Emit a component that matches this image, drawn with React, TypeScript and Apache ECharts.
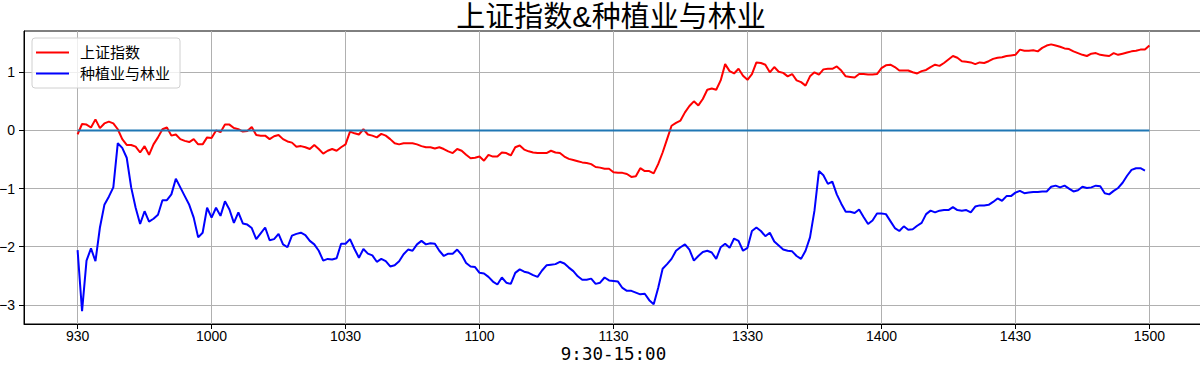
import React, { useEffect, useRef } from "react";
import * as echarts from "echarts";

const titleText = "上证指数&种植业与林业";
const xAxisName = "9:30-15:00";
const seriesNames = ["上证指数", "种植业与林业"];
const tickPositions = [0, 30, 60, 90, 120, 150, 180, 210, 240];
const tickLabels = ["930", "1000", "1030", "1100", "1130", "1330", "1400", "1430", "1500"];
const yTicks = [-3, -2, -1, 0, 1];

const shIndex = [
  -0.07, 0.11, 0.10, 0.05, 0.19, 0.04, 0.12, 0.15, 0.12, 0.02,
  -0.15, -0.25, -0.25, -0.28, -0.38, -0.27, -0.42, -0.24, -0.12, 0.02,
  0.05, -0.09, -0.07, -0.15, -0.18, -0.20, -0.15, -0.24, -0.24, -0.12,
  -0.13, 0.00, -0.03, 0.10, 0.10, 0.04, 0.02, -0.02, -0.01, 0.06,
  -0.08, -0.09, -0.09, -0.15, -0.10, -0.08, -0.15, -0.19, -0.21, -0.28,
  -0.27, -0.29, -0.32, -0.25, -0.32, -0.40, -0.35, -0.32, -0.35, -0.29,
  -0.24, -0.02, -0.05, -0.07, 0.02, -0.07, -0.09, -0.12, -0.06, -0.09,
  -0.15, -0.22, -0.24, -0.22, -0.22, -0.22, -0.24, -0.27, -0.29, -0.29,
  -0.31, -0.29, -0.32, -0.36, -0.39, -0.32, -0.35, -0.42, -0.48, -0.47,
  -0.45, -0.52, -0.42, -0.45, -0.45, -0.38, -0.39, -0.43, -0.29, -0.26,
  -0.33, -0.36, -0.38, -0.39, -0.39, -0.39, -0.35, -0.38, -0.39, -0.45,
  -0.49, -0.51, -0.53, -0.55, -0.56, -0.58, -0.63, -0.64, -0.66, -0.66,
  -0.72, -0.73, -0.73, -0.75, -0.80, -0.79, -0.65, -0.70, -0.70, -0.74,
  -0.58, -0.38, -0.15, 0.08, 0.13, 0.17, 0.31, 0.42, 0.50, 0.43,
  0.54, 0.70, 0.72, 0.70, 0.86, 1.14, 1.02, 0.98, 1.06, 0.94,
  0.87, 0.97, 1.17, 1.16, 1.13, 1.00, 1.09, 1.01, 0.99, 0.93,
  0.97, 0.86, 0.83, 0.77, 0.93, 1.00, 0.96, 1.05, 1.06, 1.06,
  1.10, 1.03, 0.93, 0.92, 0.91, 0.97, 0.97, 0.96, 0.96, 0.97,
  1.07, 1.12, 1.13, 1.09, 1.03, 1.03, 1.03, 1.00, 0.98, 1.02,
  1.04, 1.09, 1.13, 1.11, 1.16, 1.22, 1.28, 1.25, 1.19, 1.18,
  1.17, 1.14, 1.17, 1.16, 1.19, 1.23, 1.25, 1.26, 1.28, 1.29,
  1.30, 1.39, 1.37, 1.37, 1.38, 1.36, 1.42, 1.46, 1.48, 1.46,
  1.44, 1.41, 1.40, 1.36, 1.33, 1.30, 1.28, 1.32, 1.33, 1.30,
  1.29, 1.28, 1.33, 1.30, 1.32, 1.34, 1.36, 1.37, 1.39, 1.39,
  1.46,
];

const planting = [
  -2.06, -3.11, -2.24, -2.03, -2.25, -1.67, -1.28, -1.14, -0.98, -0.22,
  -0.30, -0.47, -0.98, -1.33, -1.61, -1.39, -1.57, -1.52, -1.45, -1.20,
  -1.20, -1.10, -0.83, -0.98, -1.13, -1.28, -1.50, -1.84, -1.76, -1.33,
  -1.50, -1.33, -1.47, -1.22, -1.36, -1.59, -1.41, -1.60, -1.62, -1.68,
  -1.87, -1.77, -1.67, -1.89, -1.87, -1.78, -1.96, -2.01, -1.81, -1.78,
  -1.76, -1.80, -1.90, -1.96, -2.07, -2.24, -2.21, -2.22, -2.20, -1.95,
  -1.95, -1.87, -2.04, -2.19, -2.04, -2.12, -2.15, -2.26, -2.21, -2.25,
  -2.34, -2.32, -2.25, -2.13, -2.05, -2.07, -1.96, -1.90, -1.96, -1.94,
  -1.95, -2.07, -2.16, -2.12, -2.12, -2.05, -2.14, -2.28, -2.34, -2.35,
  -2.45, -2.46, -2.52, -2.60, -2.65, -2.53, -2.62, -2.64, -2.45, -2.39,
  -2.43, -2.45, -2.49, -2.52, -2.41, -2.32, -2.31, -2.30, -2.26, -2.29,
  -2.36, -2.42, -2.51, -2.57, -2.57, -2.55, -2.64, -2.62, -2.53, -2.58,
  -2.59, -2.60, -2.71, -2.76, -2.76, -2.79, -2.82, -2.81, -2.92, -2.99,
  -2.71, -2.38, -2.30, -2.21, -2.07, -2.01, -1.96, -2.05, -2.24, -2.16,
  -2.09, -2.07, -2.10, -2.21, -2.01, -1.95, -2.02, -1.86, -1.90, -2.07,
  -2.02, -1.73, -1.67, -1.73, -1.82, -1.76, -1.91, -1.98, -2.05, -2.07,
  -2.08, -2.16, -2.21, -2.07, -1.84, -1.38, -0.70, -0.77, -0.92, -0.88,
  -1.10, -1.26, -1.40, -1.40, -1.42, -1.36, -1.49, -1.61, -1.55, -1.43,
  -1.43, -1.44, -1.56, -1.68, -1.73, -1.65, -1.71, -1.70, -1.64, -1.59,
  -1.44, -1.38, -1.41, -1.38, -1.37, -1.37, -1.32, -1.37, -1.38, -1.37,
  -1.41, -1.31, -1.29, -1.29, -1.28, -1.23, -1.17, -1.21, -1.13, -1.13,
  -1.07, -1.04, -1.08, -1.07, -1.06, -1.06, -1.05, -1.05, -0.97, -0.95,
  -0.98, -0.95, -1.00, -1.05, -1.03, -0.97, -0.99, -0.98, -0.95, -0.96,
  -1.08, -1.10, -1.04, -0.99, -0.90, -0.78, -0.68, -0.65, -0.65, -0.69,
];

const zeroLine = shIndex.map(() => 0);

const FONT = "'Liberation Sans', 'Noto Sans CJK SC', sans-serif";
const MONO = "'DejaVu Sans Mono', 'Liberation Mono', monospace";

export default function App() {
  const ref = useRef<HTMLDivElement>(null);

  useEffect(() => {
    if (!ref.current) return;
    const chart = echarts.init(ref.current, undefined, { renderer: "svg" });
    const toPairs = (arr: number[]) => arr.map((v, i) => [i, v]);

    chart.setOption({
      animation: false,
      backgroundColor: "#ffffff",
      textStyle: { fontFamily: FONT },
      graphic: [
        {
          type: "text",
          x: 611,
          y: 16.5,
          silent: true,
          style: {
            text: titleText,
            align: "center",
            verticalAlign: "middle",
            fontFamily: FONT,
            fontSize: 29,
            lineHeight: 29,
            fill: "#000",
          },
        },
      ],
      grid: {
        left: 24,
        top: 31,
        width: 1179,
        height: 293,
        show: true,
        borderColor: "#000",
        borderWidth: 1,
        backgroundColor: "transparent",
        outerBoundsMode: "none",
        containLabel: false,
      },
      legend: {
        data: seriesNames,
        orient: "vertical",
        left: 32,
        top: 38,
        padding: [7, 10, 7, 4],
        itemGap: 6,
        itemWidth: 33,
        itemHeight: 2,
        icon: "rect",
        borderColor: "#d0d0d0",
        borderWidth: 1,
        borderRadius: 3,
        backgroundColor: "rgba(255,255,255,0.8)",
        textStyle: { fontFamily: FONT, fontSize: 15, lineHeight: 15, color: "#000", padding: [0, 0, 0, 6] },
      },
      xAxis: {
        type: "value",
        min: -12,
        max: 252,
        name: xAxisName,
        nameLocation: "middle",
        nameGap: 21.5,
        nameMoveOverlap: false,
        nameTextStyle: { fontFamily: MONO, fontSize: 17.5, lineHeight: 17.5, color: "#000" },
        axisLine: { show: true, onZero: false, lineStyle: { color: "#000", width: 1 } },
        axisTick: {
          show: true,
          length: 5,
          lineStyle: { color: "#000" },
          customValues: tickPositions,
        },
        axisLabel: {
          customValues: tickPositions,
          margin: 5,
          fontFamily: FONT,
          fontSize: 14,
          lineHeight: 14,
          color: "#000",
          formatter: (v: number) => {
            const k = tickPositions.indexOf(Math.round(v));
            return k >= 0 ? tickLabels[k] : "";
          },
        },
        splitLine: { show: true, lineStyle: { color: "#b0b0b0", width: 1 } },
      },
      yAxis: {
        type: "value",
        min: -3.33,
        max: 1.71,
        axisLine: { show: true, onZero: false, lineStyle: { color: "#000", width: 1 } },
        axisTick: {
          show: true,
          length: 5,
          lineStyle: { color: "#000" },
          customValues: yTicks,
        },
        axisLabel: {
          customValues: yTicks,
          margin: 9,
          fontFamily: FONT,
          fontSize: 14,
          color: "#000",
          formatter: (v: number) => (v < 0 ? "\u2212" + Math.abs(v) : String(v)),
        },
        splitLine: { show: true, lineStyle: { color: "#b0b0b0", width: 1 } },
      },
      series: [
        {
          name: seriesNames[0],
          type: "line",
          data: toPairs(shIndex),
          showSymbol: false,
          symbol: "none",
          lineStyle: { color: "#ff0000", width: 2 },
          itemStyle: { color: "#ff0000" },
          z: 3,
        },
        {
          name: seriesNames[1],
          type: "line",
          data: toPairs(planting),
          showSymbol: false,
          symbol: "none",
          lineStyle: { color: "#0000ff", width: 2 },
          itemStyle: { color: "#0000ff" },
          z: 3,
        },
        {
          name: "zero",
          type: "line",
          data: toPairs(zeroLine),
          showSymbol: false,
          symbol: "none",
          lineStyle: { color: "#1f77b4", width: 2 },
          itemStyle: { color: "#1f77b4" },
          z: 4,
        },
      ],
    });

    return () => chart.dispose();
  }, []);

  return (
    <div
      ref={ref}
      style={{ position: "fixed", left: 0, top: 0, width: 1200, height: 365, background: "#fff" }}
    />
  );
}
